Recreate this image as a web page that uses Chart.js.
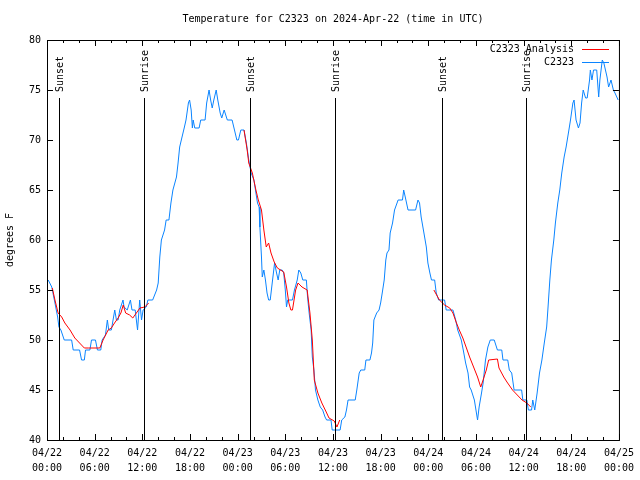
<!DOCTYPE html>
<html>
<head>
<meta charset="utf-8">
<script src="https://cdn.jsdelivr.net/npm/chart.js@4/dist/chart.umd.min.js"></script>
<style>
  body { margin: 0; background: #fff; }
</style>
</head>
<body>
<canvas id="tempChart" width="640" height="480"></canvas>
<script>
// hours since 04/22 00:00 UTC
const obsHours = [0.15, 0.6, 1.0, 1.34, 1.5, 1.75, 2.17, 3.1, 3.3, 4.1, 4.35, 4.7, 4.85, 5.4, 5.6, 6.1, 6.35, 6.77, 6.94, 7.36,
  7.6, 7.77, 8.1, 8.53, 8.74, 8.95, 9.16, 9.57, 9.7, 10.1, 10.5, 10.7, 11.1, 11.4, 11.67, 11.9, 12.1, 12.5, 12.7, 13.3,
  13.8, 14.0, 14.2, 14.4, 14.8, 15.0, 15.35, 15.6, 15.85, 16.3, 16.5, 16.7, 17.0, 17.3, 17.5, 17.8, 17.95, 18.15, 18.3, 18.4,
  18.6, 19.15, 19.35, 19.9, 20.1, 20.4, 20.6, 20.8, 21.0, 21.3, 21.5, 21.8, 22.0, 22.3, 22.7, 23.3, 23.6, 23.9, 24.1, 24.4,
  24.8, 25.1, 25.4, 25.7, 26.05, 26.3, 26.5, 26.7, 26.8, 27.0, 27.1, 27.3, 27.5, 27.7, 27.9, 28.1, 28.35, 28.65, 28.9, 29.1,
  29.3, 29.6, 29.8, 30.0, 30.15, 30.3, 30.9, 31.15, 31.5, 31.7, 31.95, 32.2, 32.65, 32.8, 33.0, 33.25, 33.4, 33.6, 33.8, 34.1,
  34.4, 34.7, 35.0, 35.2, 35.75, 35.9, 36.9, 37.1, 37.5, 37.7, 37.9, 38.8, 39.0, 39.3, 39.5, 40.0, 40.15, 40.65, 40.85, 41.0,
  41.15, 41.5, 41.8, 42.0, 42.2, 42.45, 42.65, 42.8, 43.05, 43.2, 43.5, 43.75, 44.2, 44.75, 44.9, 45.1, 45.45, 46.4, 46.7, 46.9,
  47.1, 47.45, 47.75, 47.95, 48.2, 48.4, 48.8, 49.0, 49.3, 50.05, 50.25, 51.1, 51.45, 51.7, 52.15, 52.4, 52.7, 53.0, 53.2, 53.4,
  53.8, 54.0, 54.2, 54.4, 54.7, 54.9, 55.2, 55.5, 55.8, 56.3, 56.7, 57.25, 57.4, 58.0, 58.2, 58.5, 58.8, 59.75, 59.9, 60.4,
  60.6, 61.0, 61.15, 61.4, 61.7, 62.0, 62.3, 62.6, 62.9, 63.05, 63.3, 63.5, 63.8, 64.0, 64.3, 64.55, 64.8, 65.1, 65.35, 65.7,
  65.9, 66.2, 66.35, 66.6, 66.9, 67.1, 67.3, 67.5, 67.8, 68.0, 68.3, 68.4, 68.6, 68.8, 69.2, 69.45, 69.6, 69.9, 70.1, 70.3,
  70.5, 70.7, 71.0, 71.3, 71.5, 71.9];
const obsTemps = [56, 55.3, 53.7, 52.3, 51.3, 51, 50, 50, 49, 49, 48, 48, 49, 49, 50, 50, 49, 49, 50, 50.5,
  52, 51, 51, 53, 52, 52, 53, 54, 53.3, 53, 54, 53, 53, 51, 54, 52, 53, 53.3, 54, 54,
  55, 55.7, 58.3, 60, 61, 62, 62, 63.7, 65, 66.3, 67.7, 69.3, 70.3, 71.3, 72, 73.7, 74, 73, 71.2, 72,
  71.2, 71.2, 72, 72, 73.7, 75, 74, 73.2, 74, 75, 74, 72.7, 72.2, 73, 72, 72, 71, 70, 70, 71,
  71, 69.7, 68, 66.7, 66, 64.7, 63.7, 63.3, 61.3, 58.3, 56.3, 57, 56, 54.7, 54, 54, 55.7, 57.7, 56.7, 56,
  57, 57, 56.7, 55, 53.3, 54, 54, 55, 56, 57, 56.7, 56, 56, 54.3, 52.7, 51, 48.3, 47, 45, 44,
  43.3, 43, 42.3, 42, 42, 41, 41, 42, 42.3, 43, 44, 44, 45, 46.7, 47, 47, 48, 48, 48.7, 49.7,
  52, 52.7, 53, 53.7, 54.7, 56, 58, 58.7, 59, 60.7, 61.7, 63, 64, 64, 65, 64.3, 63, 63, 64, 63.7,
  62.3, 60.7, 59.3, 57.7, 56.7, 56, 56, 54.7, 54, 54, 53, 53, 52, 51, 50, 49, 47.7, 46.7, 45.3, 45,
  44, 43, 42, 43.3, 44.7, 45.7, 48, 49.3, 50, 50, 49, 49, 48, 48, 47, 46.7, 45, 45, 44, 44,
  43, 43, 44, 43, 44.7, 46.7, 48, 49.7, 51.3, 53, 56, 58, 60, 61.7, 63.7, 65, 66.7, 68.3, 69.3, 71,
  72, 73.7, 74, 72, 71.2, 71.7, 73.7, 75, 74.2, 74.2, 76, 77, 76, 77, 77, 74.3, 76, 78, 77.7, 77,
  76.3, 75.3, 76, 75, 74.7, 74];

// analysis series, null breaks the line between nights
const anaHours = [0.67, 1.0, 1.4, 1.85, 2.25, 2.9, 3.5, 4.1, 4.7, 5.2, 6.65, 7.06, 7.7, 8.1, 8.5, 8.95, 9.3, 9.6, 9.9, 10.4,
  10.8, 11.25, 11.7, 12.3, 12.8, 18,
  24.8, 25.2, 25.4, 25.85, 26.3, 26.6, 27.0, 27.3, 27.6, 27.9, 28.2, 28.6, 29.0, 29.8, 30.15, 30.45, 30.7, 30.9, 31.3, 31.6,
  32.1, 32.75, 33.1, 33.4, 33.65, 34.1, 34.6, 35.15, 35.5, 36.16, 36.5, 36.85, 42,
  48.7, 49.4, 50.05, 50.7, 51.1, 51.5, 51.9, 52.35, 52.8, 53.2, 53.6, 54.0, 54.2, 54.6, 54.9, 55.3, 55.6, 56.7, 56.9, 57.5,
  57.9, 58.6, 59.2, 59.8, 60.4, 60.9];
const anaTemps = [55.2, 54, 52.7, 52.3, 51.7, 51, 50.2, 49.7, 49.2, 49.2, 49.2, 50, 51, 51.2, 51.7, 52.2, 52.7, 53.5, 52.7, 52.5,
  52.2, 52.7, 53.2, 53.3, 53.7, null,
  71, 69, 67.7, 66.7, 65, 64, 63, 61, 59.3, 59.7, 58.7, 57.8, 57.2, 56.8, 55.3, 53.7, 53, 53, 55, 55.7,
  55.3, 55, 52.7, 50, 46, 44.7, 43.7, 42.8, 42.2, 41.9, 41.3, 42, null,
  55, 54, 53.5, 53.2, 52.7, 51.8, 51, 50.2, 49.2, 48.3, 47.5, 46.7, 46.3, 45.3, 46, 47, 48, 48.1, 47.2, 46.3,
  45.8, 45, 44.5, 44, 43.7, 43.3];

const sunHours = [1.54, 12.2, 25.6, 36.2, 49.7, 60.3];
const sunLabels = ['Sunset', 'Sunrise', 'Sunset', 'Sunrise', 'Sunset', 'Sunrise'];

const xTickLabels = [['04/22', '00:00'], ['04/22', '06:00'], ['04/22', '12:00'], ['04/22', '18:00'],
  ['04/23', '00:00'], ['04/23', '06:00'], ['04/23', '12:00'], ['04/23', '18:00'],
  ['04/24', '00:00'], ['04/24', '06:00'], ['04/24', '12:00'], ['04/24', '18:00'], ['04/25', '00:00']];

const titleText = 'Temperature for C2323 on 2024-Apr-22 (time in UTC)';
const yLabel = 'degrees F';
const FONT = '10px "DejaVu Sans Mono"';

Chart.defaults.font.family = '"DejaVu Sans Mono"';
Chart.defaults.font.size = 10;
Chart.defaults.color = '#000';

function toPoints(xs, ys) {
  return xs.map((x, i) => ({ x: x, y: ys[i] }));
}

// frame, inward ticks, sun lines, title, legend
const gnuplotLook = {
  id: 'gnuplotLook',
  afterDraw(chart) {
    const ctx = chart.ctx;
    const a = chart.chartArea;
    const xs = chart.scales.x, ys = chart.scales.y;
    ctx.save();
    ctx.strokeStyle = '#000';
    ctx.lineWidth = 1;
    ctx.strokeRect(a.left + 0.5, a.top + 0.5, a.right - a.left, a.bottom - a.top);

    ctx.beginPath();
    xs.ticks.forEach(t => {
      const px = Math.round(xs.getPixelForValue(t.value)) + 0.5;
      const len = t.value % 6 === 0 ? 6 : 3;
      ctx.moveTo(px, a.bottom); ctx.lineTo(px, a.bottom - len);
      ctx.moveTo(px, a.top); ctx.lineTo(px, a.top + len);
    });
    ys.ticks.forEach(t => {
      const py = Math.round(ys.getPixelForValue(t.value)) + 0.5;
      ctx.moveTo(a.left, py); ctx.lineTo(a.left + 6, py);
      ctx.moveTo(a.right, py); ctx.lineTo(a.right - 6, py);
    });
    ctx.stroke();

    ctx.font = FONT;
    ctx.fillStyle = '#000';
    sunHours.forEach((h, i) => {
      const px = Math.round(xs.getPixelForValue(h)) + 0.5;
      ctx.beginPath();
      ctx.moveTo(px, 98); ctx.lineTo(px, a.bottom);
      ctx.stroke();
      ctx.save();
      ctx.translate(px + 1, 92);
      ctx.rotate(-Math.PI / 2);
      ctx.textAlign = 'left';
      ctx.textBaseline = 'middle';
      ctx.fillText(sunLabels[i], 0, 0);
      ctx.restore();
    });

    ctx.textAlign = 'center';
    ctx.textBaseline = 'middle';
    ctx.fillText(titleText, (a.left + a.right) / 2, 19);

    ctx.save();
    ctx.translate(10, (a.top + a.bottom) / 2);
    ctx.rotate(-Math.PI / 2);
    ctx.fillText(yLabel, 0, 0);
    ctx.restore();

    chart.data.datasets.forEach((ds, i) => {
      const y = 49.5 + i * 13;
      ctx.textAlign = 'right';
      ctx.fillStyle = '#000';
      ctx.fillText(ds.label, 574, y);
      ctx.strokeStyle = ds.borderColor;
      ctx.beginPath();
      ctx.moveTo(582, y); ctx.lineTo(609, y);
      ctx.stroke();
    });
    ctx.restore();
  }
};

new Chart(document.getElementById('tempChart').getContext('2d'), {
  type: 'line',
  data: {
    datasets: [{
      label: 'C2323 Analysis',
      data: toPoints(anaHours, anaTemps),
      borderColor: '#ff0000',
      borderWidth: 1,
      pointRadius: 0,
      spanGaps: false,
      tension: 0
    }, {
      label: 'C2323',
      data: toPoints(obsHours, obsTemps),
      borderColor: '#0a84ff',
      borderWidth: 1,
      pointRadius: 0,
      tension: 0
    }]
  },
  options: {
    responsive: false,
    animation: false,
    events: [],
    layout: { padding: { top: 40, right: 19, left: 0, bottom: 0 } },
    plugins: { legend: { display: false }, title: { display: false }, tooltip: { enabled: false } },
    scales: {
      x: {
        type: 'linear',
        min: 0,
        max: 72,
        grid: { display: false, drawTicks: false },
        border: { display: false },
        ticks: {
          stepSize: 2,
          autoSkip: false,
          maxRotation: 0,
          padding: 6,
          font: { lineHeight: 1.5 },
          callback: v => (v % 6 === 0 ? xTickLabels[v / 6] : '')
        },
        afterFit: s => { s.height = 40; }
      },
      y: {
        min: 40,
        max: 80,
        grid: { display: false, drawTicks: false },
        border: { display: false },
        ticks: { stepSize: 5, padding: 6 },
        afterFit: s => { s.width = 47; }
      }
    }
  },
  plugins: [gnuplotLook]
});
</script>
</body>
</html>
